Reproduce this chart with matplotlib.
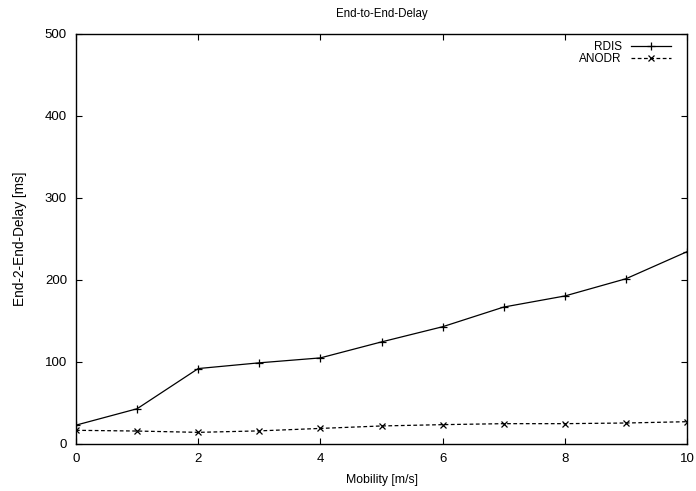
import matplotlib
matplotlib.use('Agg')
import matplotlib.pyplot as plt
import numpy as np

plt.rcParams['font.family'] = ['Liberation Sans', 'DejaVu Sans']
plt.rcParams['font.size'] = 9

mobility = [0, 1, 2, 3, 4, 5, 6, 7, 8, 9, 10]
rdis = [23, 43, 92, 99, 105, 124.5, 143, 167, 180.5, 201.5, 234.5]
anodr = [16.7, 15.8, 14.2, 16, 19, 22, 23.6, 24.8, 24.8, 25.6, 27.2]

x_ticks = np.arange(0, 11, 2)
y_ticks = np.arange(0, 501, 100)

fig = plt.figure(figsize=(6.96, 4.91), dpi=100)
ax = fig.add_axes([76 / 696, 1 - 444 / 491, (687 - 76) / 696, (444 - 34) / 491])

ax.plot(mobility, rdis, '-', color='black', lw=0.9, marker='+', ms=5.5, mew=0.9, label='RDIS')
ax.plot(mobility, anodr, '--', color='black', lw=0.9, marker='x', ms=4.5, mew=0.9,
        dashes=(3, 2), label='ANODR')

ax.set_xlim(0, 10)
ax.set_ylim(0, 500)
ax.set_xticks(x_ticks)
ax.set_yticks(y_ticks)
ax.tick_params(direction='in', length=4.5, width=0.8, top=True, right=True, pad=6.5,
               labelsize=9.5)
for s in ax.spines.values():
  s.set_linewidth(1.0)

ax.set_xlabel('Mobility [m/s]', fontsize=8.8)
ax.xaxis.set_label_coords(0.5, -0.073)
ax.set_ylabel('End-2-End-Delay [ms]', fontsize=9.8)
ax.yaxis.set_label_coords(-0.080, 0.5)
ax.set_title('End-to-End-Delay', fontsize=8.3, pad=12)

ax.legend(loc='upper right', frameon=False, markerfirst=False, fontsize=8.5,
          handlelength=3.4, handletextpad=0.76, labelspacing=-0.05,
          bbox_to_anchor=(1 - 8 / 611, 1 + 1 / 410), borderaxespad=0.3)

fig.savefig('out.png', dpi=100)
